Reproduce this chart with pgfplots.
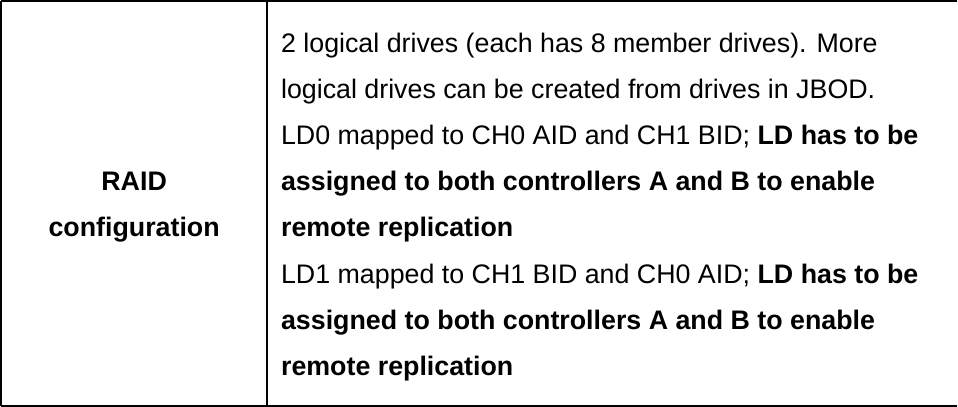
\documentclass[border=0pt]{standalone}
\usepackage{pgfplots}
\pgfplotsset{compat=1.18}
\usepackage{fontspec}
\setmainfont{Liberation Sans}
\begin{document}
\begin{tikzpicture}[x=0.75pt,y=0.75pt]
\begin{axis}[
  hide axis,
  scale only axis,
  width=718.5pt, height=306.75pt,
  xmin=0, xmax=958, ymin=0, ymax=409,
  y dir=reverse,
  clip=false,
]
% table rules
\addplot[black, line width=1.5pt, forget plot] coordinates {(6.5,4.8) (958,4.8)};
\addplot[black, line width=1.5pt, forget plot] coordinates {(6.5,407.5) (958,407.5)};
\addplot[black, line width=1.5pt, forget plot] coordinates {(6.5,4.8) (6.5,407.5)};
\addplot[black, line width=1.5pt, forget plot] coordinates {(271.5,4.8) (271.5,407.5)};
% left cell
\node[anchor=base, font=\fontsize{20pt}{24pt}\selectfont\bfseries, inner sep=0pt] at (axis cs:139,193.7) {RAID};
\node[anchor=base, font=\fontsize{20pt}{24pt}\selectfont\bfseries, inner sep=0pt] at (axis cs:139,239.6) {configuration};
% right cell
\begin{scope}[every node/.style={anchor=base west, inner sep=0pt, font=\fontsize{20pt}{24pt}\selectfont}]
\node at (axis cs:285,56) {2 logical drives (each has 8 member drives). More};
\node at (axis cs:285,101.9) {logical drives can be created from drives in JBOD.};
\node at (axis cs:285,147.8) {LD0 mapped to CH0 AID and CH1 BID; \textbf{LD has to be}};
\node at (axis cs:285,193.7) {\textbf{assigned to both controllers A and B to enable}};
\node at (axis cs:285,239.6) {\textbf{remote replication}};
\node at (axis cs:285,285.5) {LD1 mapped to CH1 BID and CH0 AID; \textbf{LD has to be}};
\node at (axis cs:285,331.4) {\textbf{assigned to both controllers A and B to enable}};
\node at (axis cs:285,377.3) {\textbf{remote replication}};
\end{scope}
\end{axis}
\end{tikzpicture}
\end{document}
